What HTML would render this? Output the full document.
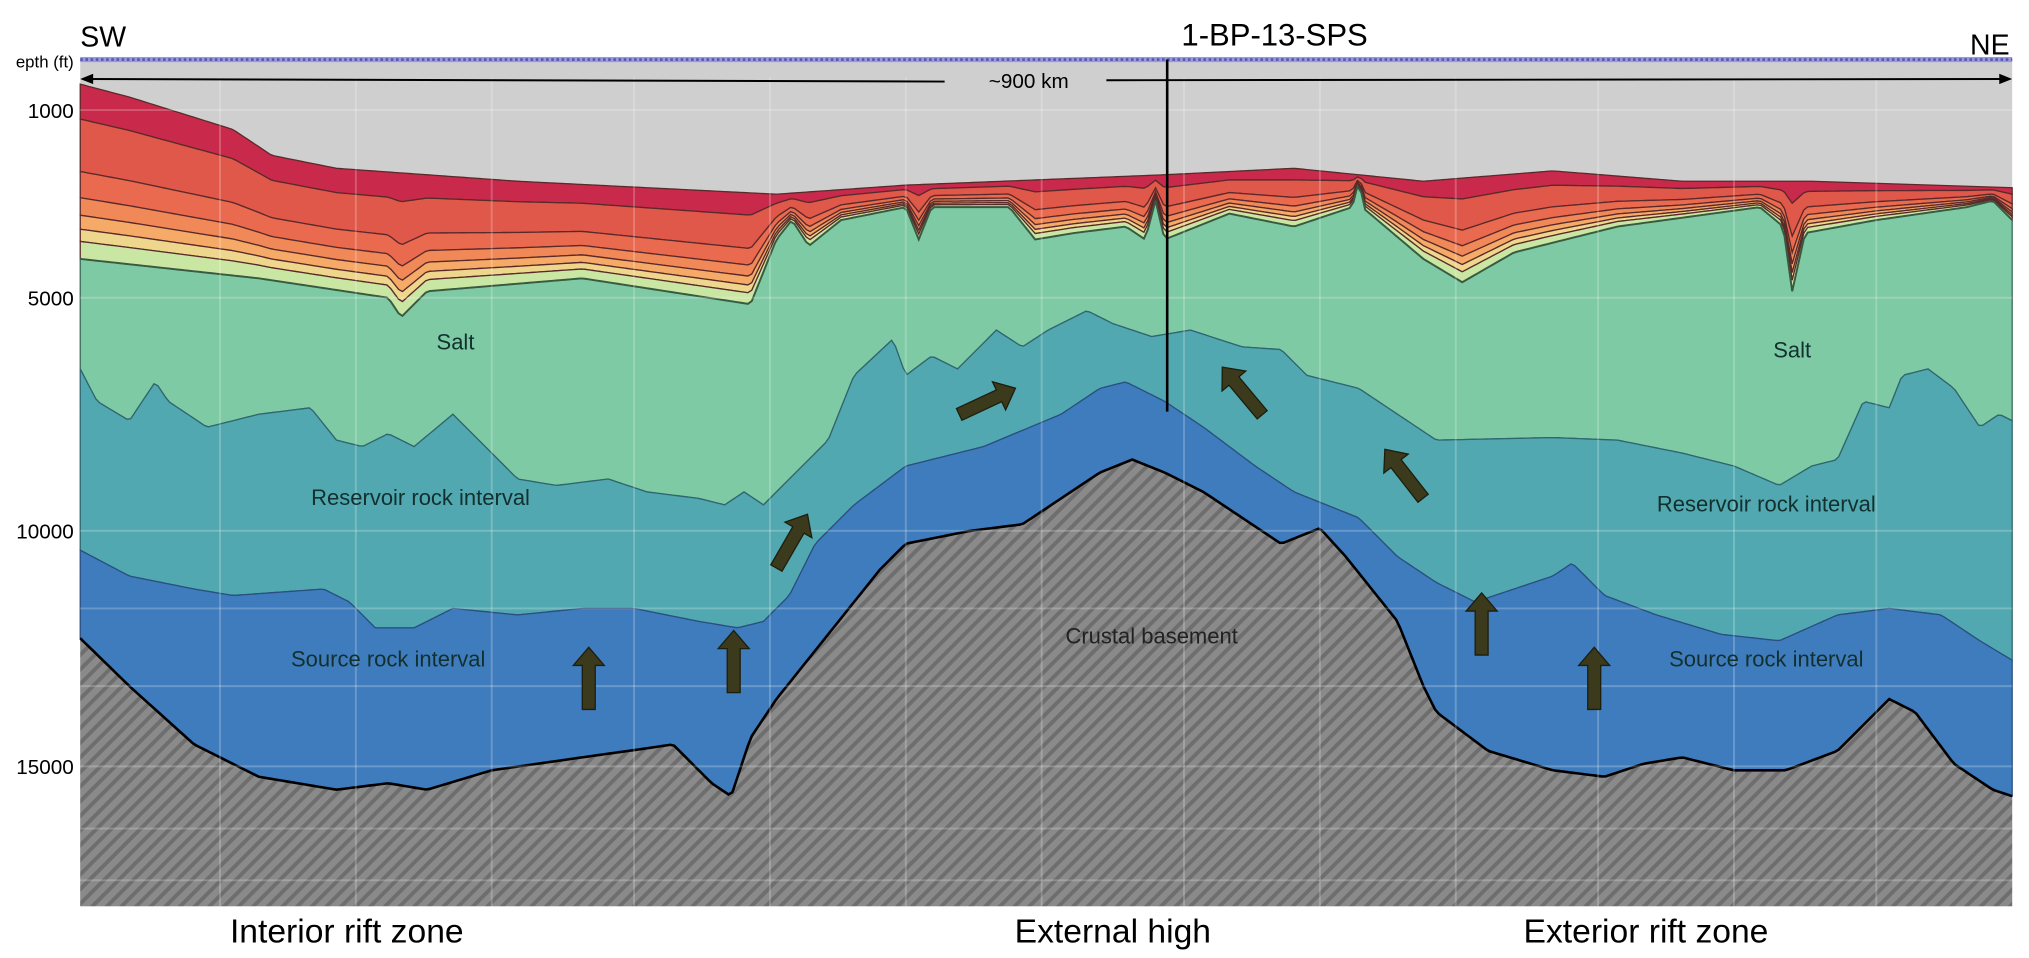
<!DOCTYPE html>
<html><head><meta charset="utf-8"><style>
html,body{margin:0;padding:0;background:#fff;width:2029px;height:958px;overflow:hidden}
svg{display:block}
text{font-family:"Liberation Sans Narrow","Liberation Sans",sans-serif}
</style></head><body>
<svg id="s" width="2029" height="958" viewBox="0 0 1568 740" preserveAspectRatio="none" xmlns="http://www.w3.org/2000/svg">
<defs>
<pattern id="h" width="8" height="8" patternUnits="userSpaceOnUse" patternTransform="rotate(45)">
<rect width="8" height="8" fill="#8a8a8a"/><rect width="3" height="8" fill="#6e6e6e"/></pattern>
</defs>
<rect x="62" y="46" width="1493" height="654" fill="#cfcfcf"/>
<g id="layers"></g>
<g id="grid" stroke="#fff" stroke-opacity="0.22" stroke-width="1.5"></g>
<rect x="62" y="44" width="1493" height="4" fill="#9a9ad8"/>
<line x1="62" y1="46" x2="1555" y2="46" stroke="#5555bb" stroke-width="2" stroke-dasharray="2 2"/>
<line x1="66" y1="61" x2="730" y2="63" stroke="#000" stroke-width="1.5"/>
<line x1="855" y1="62" x2="1550" y2="61" stroke="#000" stroke-width="1.5"/>
<polygon points="62,61 72,57 72,65" fill="#000"/><polygon points="1555,61 1545,57 1545,65" fill="#000"/>
<line x1="902" y1="46" x2="902" y2="318" stroke="#000" stroke-width="2"/>
<g id="arrows" fill="#3b3a1c" stroke="#1e1e0c" stroke-width="1"></g>
<g font-size="22" fill="#000">
<text x="62" y="36">SW</text>
<text x="1553" y="42" text-anchor="end">NE</text>
<text x="985" y="35" text-anchor="middle" font-size="24">1-BP-13-SPS</text>
<text x="795" y="68" text-anchor="middle" font-size="16">~900 km</text>
</g>
<g font-size="16" fill="#000" text-anchor="end">
<text x="57" y="52" font-size="13">epth (ft)</text>
<text x="57" y="91">1000</text>
<text x="57" y="236">5000</text>
<text x="57" y="416">10000</text>
<text x="57" y="598">15000</text>
</g>
<g font-size="17" fill="#12302e">
<text x="352" y="270" text-anchor="middle">Salt</text>
<text x="1385" y="276" text-anchor="middle">Salt</text>
<text x="325" y="390" text-anchor="middle">Reservoir rock interval</text>
<text x="1365" y="395" text-anchor="middle">Reservoir rock interval</text>
<text x="300" y="515" text-anchor="middle">Source rock interval</text>
<text x="1365" y="515" text-anchor="middle">Source rock interval</text>
<text x="890" y="497" text-anchor="middle" fill="#222">Crustal basement</text>
</g>
<g font-size="26" fill="#000" text-anchor="middle">
<text x="268" y="728">Interior rift zone</text>
<text x="860" y="728">External high</text>
<text x="1272" y="728">Exterior rift zone</text>
</g>
</svg>
<script>
const sea=[[62,65],[100,75],[180,100],[210,120],[260,130],[400,140],[600,150],[700,143],[900,135],[1000,130],[1100,140],[1200,132],[1300,140],[1400,140],[1555,145]];
const salt=[[62,200],[200,215],[300,230],[310,245],[330,225],[450,215],[580,235],[600,185],[612,170],[625,190],[650,170],[700,160],[710,185],[720,160],[780,160],[800,185],[830,180],[870,175],[885,185],[893,155],[900,185],[950,165],[1000,175],[1045,160],[1050,140],[1055,162],[1100,200],[1130,218],[1170,195],[1250,175],[1360,160],[1378,175],[1385,225],[1395,180],[1450,170],[1520,160],[1540,155],[1555,170]];
const res=[[62,285],[75,310],[100,325],[120,295],[130,310],[160,330],[200,320],[240,315],[260,340],[280,345],[300,335],[320,345],[350,320],[380,350],[400,370],[430,375],[470,370],[500,380],[540,385],[560,390],[575,380],[590,390],[610,370],[640,340],[660,290],[690,262],[700,290],[720,275],[740,285],[770,255],[790,268],[810,255],[840,240],[860,250],[890,260],[920,255],[960,268],[990,270],[1010,290],[1050,300],[1080,320],[1110,340],[1200,338],[1250,340],[1300,350],[1340,360],[1375,375],[1400,360],[1420,355],[1440,310],[1460,315],[1470,290],[1490,285],[1510,300],[1530,330],[1545,320],[1555,325]];
const src=[[62,425],[100,445],[150,455],[180,460],[250,455],[270,465],[290,485],[320,485],[350,470],[400,475],[450,470],[490,470],[540,480],[570,485],[590,480],[610,460],[630,420],[660,390],[700,360],[760,345],[820,320],[850,300],[870,295],[900,310],[930,330],[970,360],[1000,380],[1050,400],[1080,430],[1110,450],[1140,465],[1170,455],[1200,445],[1215,435],[1240,460],[1280,475],[1330,490],[1375,495],[1420,475],[1460,470],[1500,475],[1530,495],[1555,510]];
const bas=[[62,493],[100,530],[150,575],[200,600],[260,610],[300,605],[330,610],[380,595],[450,585],[500,578],[520,575],[550,605],[565,615],[580,570],[600,540],[640,490],[680,440],[700,420],[750,410],[790,405],[820,385],[850,365],[875,355],[900,365],[930,380],[960,400],[990,420],[1020,408],[1040,430],[1080,480],[1100,530],[1110,550],[1150,580],[1200,595],[1240,600],[1270,590],[1300,585],[1340,595],[1380,595],[1420,580],[1460,540],[1480,550],[1510,590],[1540,610],[1555,615]];
function at(L,x){for(let i=0;i<L.length-1;i++){const a=L[i],b=L[i+1];if(x>=a[0]&&x<=b[0]){return a[1]+(b[1]-a[1])*(x-a[0])/(b[0]-a[0]);}}return L[L.length-1][1];}
const xs=[];for(let x=62;x<=1555;x+=3)xs.push(x);xs[xs.length-1]=1555;
function line(f){return xs.map(x=>[x,f(x)]);}
function band(top,bot,fill,stroke){const p=top.map(q=>q.join(',')).concat(bot.slice().reverse().map(q=>q.join(','))).join(' ');
return `<polygon points="${p}" fill="${fill}" stroke="${stroke||'none'}" stroke-width="1"/>`;}
let h='';
const A=x=>at(sea,x),B=x=>at(salt,x);
const fr=[0,0.2,0.5,0.65,0.75,0.83,0.9,1];
const cols=['#c92a4b','#e0584a','#ea6a50','#f08858','#f5aa68','#eed68c','#c9e6a2'];
for(let i=0;i<cols.length;i++){const t=line(x=>A(x)+(B(x)-A(x))*fr[i]),b=line(x=>A(x)+(B(x)-A(x))*fr[i+1]);h+=band(t,b,cols[i],'#5a2a2a');}
const S=line(B),R=line(x=>at(res,x)),C=line(x=>at(src,x)),K=line(x=>at(bas,x)),Z=line(x=>700);
h+=band(S,R,'#7dcaa4','#3d6a5a');
h+=band(R,C,'#52a8b0','#2f6670');
h+=band(C,K,'#3f7cbd','#2a4f80');
h+=band(K,Z,'url(#h)','none');
h+=`<polyline points="${K.map(q=>q.join(',')).join(' ')}" fill="none" stroke="#000" stroke-width="2"/>`;
h+=`<polyline points="${S.map(q=>q.join(',')).join(' ')}" fill="none" stroke="#3a5a40" stroke-width="1.5"/>`;
document.getElementById('layers').innerHTML=h;
let g='';
[170,275,380,490,595,700,805,915,1020,1125,1235,1340,1450].forEach(x=>g+=`<line x1="${x}" y1="60" x2="${x}" y2="700"/>`);
[85,230,410,470,530,592,640,680].forEach(y=>g+=`<line x1="62" y1="${y}" x2="1555" y2="${y}"/>`);
document.getElementById('grid').innerHTML=g;
function arrow(cx,cy,ang){return `<polygon transform="translate(${cx},${cy}) rotate(${ang})" points="-5,24 5,24 5,-10 12,-10 0,-24 -12,-10 -5,-10"/>`;}
let a='';
a+=arrow(455,524,0)+arrow(567,511,0)+arrow(1145,482,0)+arrow(1232,524,0);
a+=arrow(612,418,30)+arrow(763,310,65)+arrow(960,302,-40)+arrow(1085,366,-38);
document.getElementById('arrows').innerHTML=a;
</script>
</body></html>
